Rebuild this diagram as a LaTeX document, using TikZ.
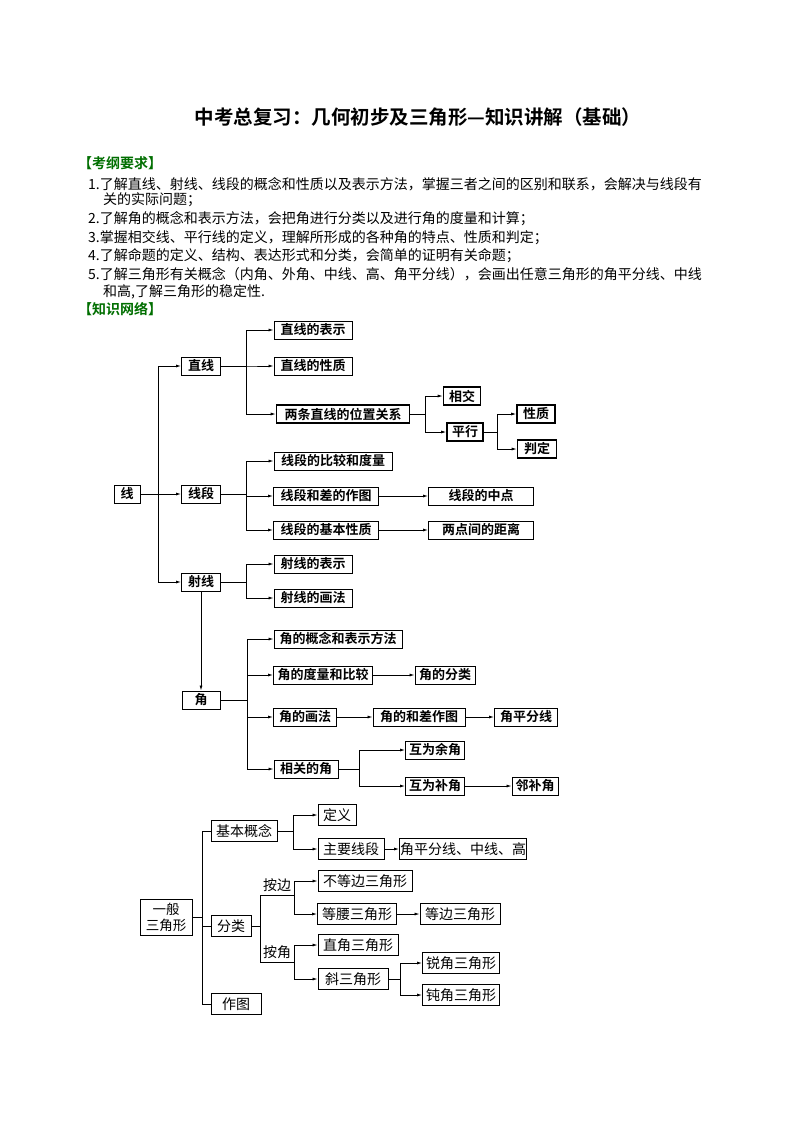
\documentclass[tikz,border=0pt]{standalone}
\usepackage{fontspec}
\setmainfont{Noto Sans CJK SC}
\newfontfamily\cjk{Noto Sans CJK SC}
\newfontfamily\cjkb{Noto Sans CJK SC Bold}
\usetikzlibrary{arrows.meta}
\definecolor{dgreen}{RGB}{0,110,0}
\tikzset{
 x=1pt,y=-1pt,
 box/.style={draw,line width=0.9pt,inner sep=0.5pt,minimum height=18pt,font=\cjkb\fontsize{13}{14}\selectfont},
 tbox/.style={box,line width=1.6pt},
 plain/.style={draw,line width=0.9pt,inner sep=0.5pt,minimum height=21pt,font=\cjk\fontsize{14}{15}\selectfont},
 arr/.style={line width=0.8pt,-{Latex[length=5pt,width=3pt]}},
 ln/.style={line width=0.8pt},
 txt/.style={anchor=west,inner sep=0pt,font=\cjk\fontsize{14}{15}\selectfont},
 hd/.style={anchor=west,inner sep=0pt,font=\cjkb\fontsize{14}{15}\selectfont,text=dgreen},
}
\newcommand{\br}[3]{\draw[arr] (#1.east) -- (#1.east -| #2) |- (#3.west);}
\begin{document}
\begin{tikzpicture}
\useasboundingbox (0,0) rectangle (794,1123);
\node[font=\cjkb\fontsize{19.5}{21}\selectfont] (title) at (418,117) {中考总复习：几何初步及三角形—知识讲解（基础）};
\node[hd] (h1) at (78,163) {【考纲要求】};
\node[txt] (l1) at (88,184) {1.了解直线、射线、线段的概念和性质以及表示方法，掌握三者之间的区别和联系，会解决与线段有};
\node[txt] (l1b) at (103,200) {关的实际问题；};
\node[txt] (l2) at (88,219) {2.了解角的概念和表示方法，会把角进行分类以及进行角的度量和计算；};
\node[txt] (l3) at (88,238) {3.掌握相交线、平行线的定义，理解所形成的各种角的特点、性质和判定；};
\node[txt] (l4) at (88,256) {4.了解命题的定义、结构、表达形式和分类，会简单的证明有关命题；};
\node[txt] (l5) at (88,274) {5.了解三角形有关概念（内角、外角、中线、高、角平分线），会画出任意三角形的角平分线、中线};
\node[txt] (l5b) at (103,292) {和高,了解三角形的稳定性.};
\node[hd] (h2) at (78,309) {【知识网络】};

% lines
\node[box,minimum width=26] (xian) at (127,494) {线};
\node[box,minimum width=39] (zx) at (201,366) {直线};
\node[box,minimum width=39] (xd) at (201,494) {线段};
\node[box,minimum width=39] (sx) at (201,582) {射线};
\node[box,minimum width=78] (zx1) at (313,330) {直线的表示};
\node[box,minimum width=78] (zx2) at (313,366) {直线的性质};
\node[tbox,minimum width=133] (zx3) at (343,414) {两条直线的位置关系};
\node[tbox,minimum width=37] (xj) at (462,396) {相交};
\node[tbox,minimum width=36] (px) at (465,432) {平行};
\node[tbox,minimum width=38] (xz) at (536,414) {性质};
\node[tbox,minimum width=39] (pd) at (537,449) {判定};
\node[box,minimum width=118] (xd1) at (333,461) {线段的比较和度量};
\node[box,minimum width=105] (xd2) at (326,496) {线段和差的作图};
\node[box,minimum width=105] (xd3) at (326,530) {线段的基本性质};
\node[box,minimum width=105] (zd) at (481,496) {线段的中点};
\node[box,minimum width=105] (jl) at (481,530) {两点间的距离};
\node[box,minimum width=78] (sx1) at (313,564) {射线的表示};
\node[box,minimum width=78] (sx2) at (313,598) {射线的画法};
\coordinate (ja) at (158,0);
\coordinate (jb) at (246,0);
\coordinate (jc) at (425,0);
\coordinate (jd) at (497,0);
\draw[ln] (xian.east) -- (xian.east -| ja);
\draw[arr] (zx.west -| ja) -- (zx.west);
\draw[arr] (ja |- xd.west) -- (xd.west);
\draw[arr] (sx.west -| ja) -- (sx.west);
\draw[ln] (zx.west -| ja) -- (sx.west -| ja);
\br{zx}{jb}{zx1} \br{zx}{jb}{zx2} \br{zx}{jb}{zx3}
\br{zx3}{jc}{xj} \br{zx3}{jc}{px}
\br{px}{jd}{xz} \br{px}{jd}{pd}
\br{xd}{jb}{xd1} \br{xd}{jb}{xd2} \br{xd}{jb}{xd3}
\draw[arr] (xd2) -- (zd);
\draw[arr] (xd3) -- (jl);
\br{sx}{jb}{sx1} \br{sx}{jb}{sx2}

% angles
\node[box,minimum width=38] (jiao) at (201,700) {角};
\draw[arr] (sx) -- (jiao);
\coordinate (je) at (247,0);
\coordinate (jf) at (359,0);
\node[box,minimum width=128] (j1) at (338,639) {角的概念和表示方法};
\node[box,minimum width=99] (j2) at (323,675) {角的度量和比较};
\node[box,minimum width=60] (jfl) at (445,675) {角的分类};
\node[box,minimum width=63] (j3) at (305,717) {角的画法};
\node[box,minimum width=92] (jhc) at (419,717) {角的和差作图};
\node[box,minimum width=63] (jpf) at (526,717) {角平分线};
\node[box,minimum width=64] (j4) at (306,769) {相关的角};
\node[box,minimum width=59] (yj) at (435,750) {互为余角};
\node[box,minimum width=59] (bj) at (435,786) {互为补角};
\node[box,minimum width=46] (lbj) at (535,786) {邻补角};
\br{jiao}{je}{j1} \br{jiao}{je}{j2} \br{jiao}{je}{j3} \br{jiao}{je}{j4}
\draw[arr] (j2) -- (jfl);
\draw[arr] (j3) -- (jhc);
\draw[arr] (jhc) -- (jpf);
\br{j4}{jf}{yj} \br{j4}{jf}{bj}
\draw[arr] (bj) -- (lbj);

% triangles
\node[plain,minimum width=52,minimum height=36,align=center,font=\cjk\fontsize{13.5}{16}\selectfont] (sj) at (166,917) {一般\\三角形};
\coordinate (jg) at (202,0);
\node[plain,minimum width=66] (jbgn) at (244,831) {基本概念};
\node[plain,minimum width=40] (fl) at (231,926) {分类};
\node[plain,minimum width=50] (zt) at (236,1004) {作图};
\draw[ln] (sj.east) -- (sj.east -| jg);
\draw[ln] (jbgn.west -| jg) -- (zt.west -| jg);
\draw[ln] (jbgn.west -| jg) -- (jbgn.west);
\draw[ln] (fl.west -| jg) -- (fl.west);
\draw[ln] (zt.west -| jg) -- (zt.west);
\coordinate (jh) at (293,0);
\node[plain,minimum width=38] (dy) at (337,815) {定义};
\node[plain,minimum width=66] (zyxd) at (351,849) {主要线段};
\node[plain,minimum width=123] (jpfx) at (463,849) {角平分线、中线、高};
\br{jbgn}{jh}{dy} \br{jbgn}{jh}{zyxd}
\draw[arr] (zyxd) -- (jpfx);
\coordinate (ji) at (260,0);
\coordinate (jj) at (294,0);
\coordinate (ab) at (260,895);
\coordinate (aj) at (260,962);
\draw[ln] (fl.east) -- (fl.east -| ji);
\draw[ln] (ab) -- (aj);
\node[font=\cjk\fontsize{14}{15}\selectfont,inner sep=1pt] (abl) at (277,885) {按边};
\node[font=\cjk\fontsize{14}{15}\selectfont,inner sep=1pt] (ajl) at (277,952) {按角};
\node[plain,minimum width=94] (bdb) at (365,881) {不等边三角形};
\node[plain,minimum width=79] (dy3) at (357,914) {等腰三角形};
\node[plain,minimum width=80] (db3) at (460,914) {等边三角形};
\node[plain,minimum width=80] (zj3) at (358,945) {直角三角形};
\node[plain,minimum width=70] (x3) at (353,979) {斜三角形};
\node[plain,minimum width=77] (rj3) at (461,963) {锐角三角形};
\node[plain,minimum width=77] (dj3) at (461,995) {钝角三角形};
\draw[ln] (ab) -- (ab -| jj);
\draw[ln] (aj) -- (aj -| jj);
\draw[ln] (jj |- bdb.west) -- (jj |- dy3.west);
\draw[ln] (jj |- zj3.west) -- (jj |- x3.west);
\draw[arr] (jj |- bdb.west) -- (bdb.west);
\draw[arr] (jj |- dy3.west) -- (dy3.west);
\draw[arr] (jj |- zj3.west) -- (zj3.west);
\draw[arr] (jj |- x3.west) -- (x3.west);
\draw[arr] (dy3) -- (db3);
\coordinate (jk) at (400,0);
\br{x3}{jk}{rj3} \br{x3}{jk}{dj3}
\end{tikzpicture}
\end{document}
